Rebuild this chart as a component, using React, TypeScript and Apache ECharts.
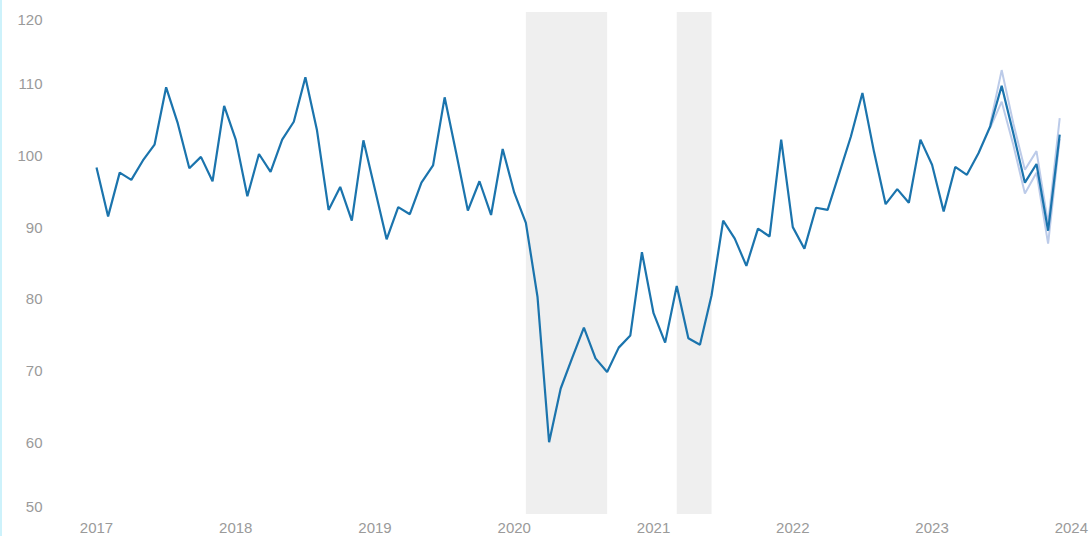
import React, { useEffect, useRef } from "react";
import * as echarts from "echarts";

// Monthly index values, Jan..Dec of each year
const years = [2017, 2018, 2019, 2020, 2021, 2022, 2023];
const values2017 = [98.3, 91.5, 97.6, 96.6, 99.3, 101.5, 109.5, 104.5, 98.2, 99.8, 96.4, 106.9];
const values2018 = [102.2, 94.3, 100.2, 97.7, 102.2, 104.7, 110.9, 103.5, 92.4, 95.6, 90.9, 102.1];
const values2019 = [95.2, 88.3, 92.8, 91.8, 96.2, 98.6, 108.1, 100.3, 92.3, 96.4, 91.7, 100.9];
const values2020 = [94.8, 90.6, 80.3, 60.0, 67.5, 71.8, 76.0, 71.7, 69.8, 73.2, 74.9, 86.5];
const values2021 = [78.0, 73.9, 81.8, 74.5, 73.6, 80.5, 90.9, 88.4, 84.6, 89.8, 88.7, 102.2];
const values2022 = [90.0, 87.0, 92.7, 92.4, 97.5, 102.6, 108.7, 100.5, 93.2, 95.3, 93.4, 102.2];
const values2023 = [98.7, 92.2, 98.4, 97.3, 100.3, 104.0, 109.7, 103.1, 96.2, 98.8, 89.5, 102.9];
const yearlyValues = [values2017, values2018, values2019, values2020, values2021, values2022, values2023];

// Confidence band, Jun..Dec 2023
const bandMonths = [5, 6, 7, 8, 9, 10, 11];
const bandLower = [103.8, 107.5, 101.5, 94.7, 97.6, 87.7, 102.3];
const bandUpper = [104.3, 111.9, 104.5, 98.0, 100.6, 90.5, 105.2];

// Shaded periods [start year, start month index, end year, end month index]
const shadedPeriods = [
  [2020, 1, 2020, 8],
  [2021, 2, 2021, 5],
];

const yTicks = { min: 50, max: 120, interval: 10 };
const xTicks = { min: 2017, max: 2024, interval: 1 };

const LINE_COLOR = "#1b74ad";
const BAND_COLOR = "#bccbe9";
const LABEL_COLOR = "#9a9a9a";
const FONT = "'Liberation Sans', Arial, sans-serif";

export default function App() {
  const ref = useRef<HTMLDivElement>(null);

  useEffect(() => {
    if (!ref.current) return;
    const chart = echarts.init(ref.current, undefined, { renderer: "svg" });

    const mainData: [number, number][] = [];
    years.forEach((y, yi) => {
      yearlyValues[yi].forEach((v, m) => mainData.push([y + m / 12, v]));
    });
    const lowerData = bandMonths.map((m, i) => [2023 + m / 12, bandLower[i]]);
    const diffData = bandMonths.map((m, i) => [2023 + m / 12, +(bandUpper[i] - bandLower[i]).toFixed(2)]);
    const upperData = bandMonths.map((m, i) => [2023 + m / 12, bandUpper[i]]);

    chart.setOption({
      animation: false,
      backgroundColor: "#ffffff",
      grid: { left: 96.5, right: 18.5, top: 12, bottom: 22, containLabel: false },
      graphic: [
        { type: "rect", left: 0, top: 0, shape: { width: 2, height: 536 }, style: { fill: "#cdf2fb" } },
      ],
      xAxis: {
        type: "value",
        min: xTicks.min,
        max: xTicks.max,
        interval: xTicks.interval,
        axisLine: { show: false },
        axisTick: { show: false },
        splitLine: { show: false },
        axisLabel: {
          color: LABEL_COLOR,
          fontSize: 15,
          fontFamily: FONT,
          margin: 6,
          formatter: (v: number) => String(Math.round(v)),
        },
      },
      yAxis: {
        type: "value",
        min: yTicks.min,
        max: yTicks.max,
        interval: yTicks.interval,
        axisLine: { show: false },
        axisTick: { show: false },
        splitLine: { show: false },
        axisLabel: {
          color: LABEL_COLOR,
          fontSize: 15,
          fontFamily: FONT,
          margin: 54,
          verticalAlignMinLabel: "bottom",
          verticalAlignMaxLabel: "top",
        },
      },
      series: [
        {
          type: "line",
          data: [],
          z: 1,
          silent: true,
          markArea: {
            silent: true,
            itemStyle: { color: "#efefef" },
            data: shadedPeriods.map(([y1, m1, y2, m2]) => [
              { xAxis: y1 + m1 / 12 },
              { xAxis: y2 + m2 / 12 },
            ]),
          },
        },
        {
          type: "line",
          data: lowerData,
          stack: "band",
          symbol: "none",
          z: 2,
          lineStyle: { color: BAND_COLOR, width: 2 },
          areaStyle: { opacity: 0 },
        },
        {
          type: "line",
          data: diffData,
          stack: "band",
          symbol: "none",
          z: 2,
          lineStyle: { width: 0, opacity: 0 },
          areaStyle: { color: "rgba(188,203,233,0.45)" },
        },
        {
          type: "line",
          data: upperData,
          symbol: "none",
          z: 2,
          lineStyle: { color: BAND_COLOR, width: 2 },
        },
        {
          type: "line",
          data: mainData,
          symbol: "none",
          z: 3,
          lineStyle: { color: LINE_COLOR, width: 2.2 },
        },
      ],
    });

    return () => chart.dispose();
  }, []);

  return (
    <div
      ref={ref}
      style={{ position: "absolute", left: 0, top: 0, width: 1091, height: 536 }}
    />
  );
}
